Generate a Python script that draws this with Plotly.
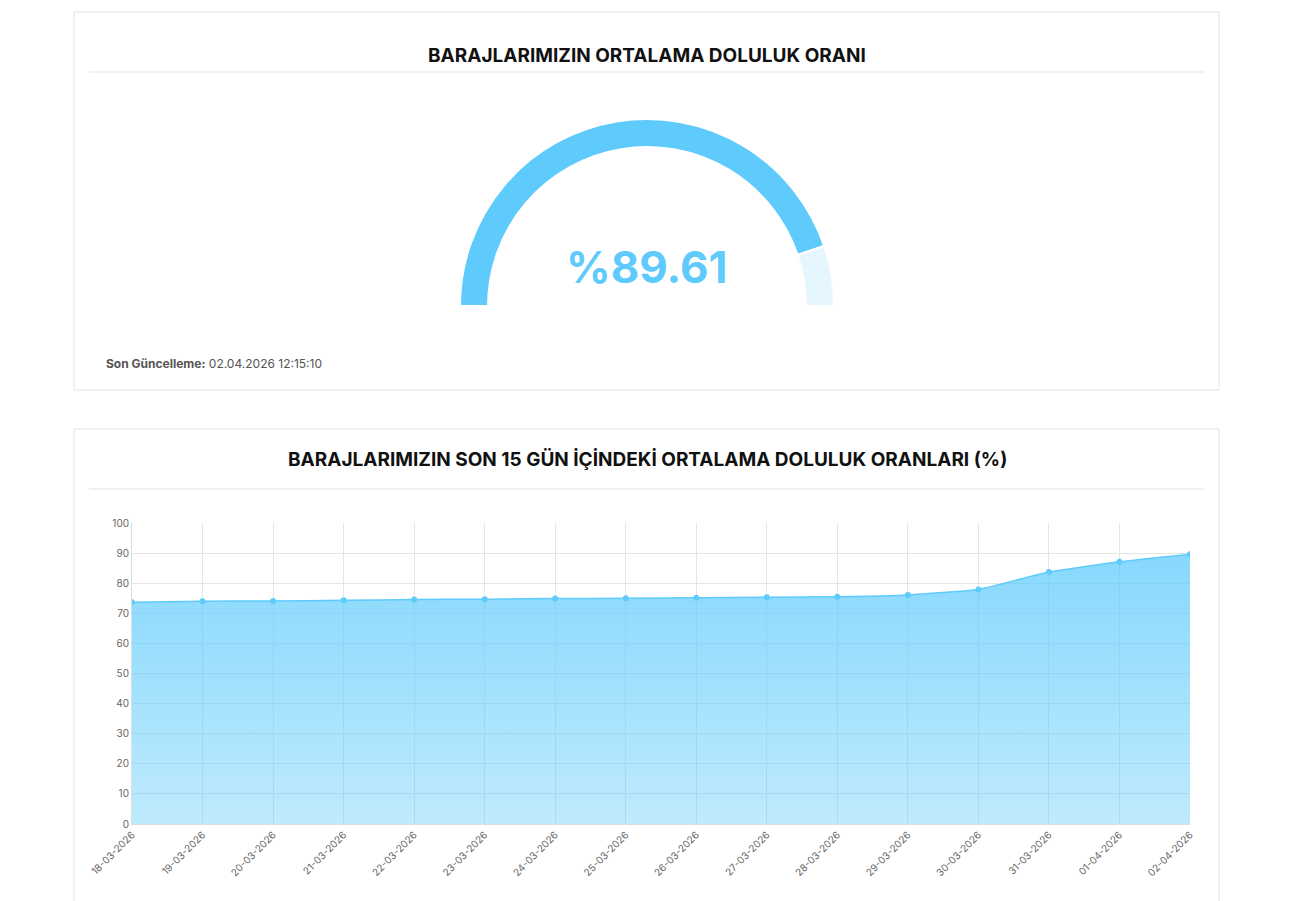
import plotly.graph_objects as go

W, H = 1290, 901

gauge_value = 89.61
update_text = "02.04.2026 12:15:10"

dates = ["18-03-2026", "19-03-2026", "20-03-2026", "21-03-2026", "22-03-2026",
         "23-03-2026", "24-03-2026", "25-03-2026", "26-03-2026", "27-03-2026",
         "28-03-2026", "29-03-2026", "30-03-2026", "31-03-2026", "01-04-2026",
         "02-04-2026"]
fill_rates = [73.7, 74.0, 74.1, 74.3, 74.6, 74.7, 74.9, 75.0, 75.2, 75.3,
              75.5, 76.1, 77.9, 83.7, 87.1, 89.61]
y_ticks = list(range(0, 101, 10))

BLUE = "#5fcbfc"
FONT = "Inter"


def px(x):
    return x / W


def py(y):
    return 1 - y / H


fig = go.Figure()

# gauge as a half donut: filled part, remainder, invisible lower half
fig.add_trace(go.Pie(
    values=[gauge_value, 100 - gauge_value, 100],
    marker=dict(colors=[BLUE, "#e6f6fe", "rgba(0,0,0,0)"],
                line=dict(color="white", width=[2, 2, 0])),
    hole=0.85, sort=False, direction="clockwise", rotation=-90,
    textinfo="none", hoverinfo="skip", showlegend=False,
    domain={"x": [px(452), px(826)], "y": [py(485), py(111)]},
))

# line chart
fig.add_trace(go.Scatter(
    x=dates, y=fill_rates, mode="lines+markers",
    line=dict(color=BLUE, width=1.5, shape="spline", smoothing=0.4),
    marker=dict(color=BLUE, size=6),
    fill="tozeroy",
    fillgradient=dict(type="vertical",
                      colorscale=[[0, "rgba(95,203,252,0.4)"], [1, "rgba(95,203,252,0.75)"]]),
    hoverinfo="x+y", showlegend=False,
))

fig.update_xaxes(domain=[px(124), px(1182)], tickangle=-45, showgrid=True,
                 gridcolor="#e5e5e5", showline=True, linecolor="#dddddd",
                 tickfont=dict(family=FONT, size=10, color="#666"), ticks="",
                 range=[0, len(dates) - 1], automargin=False)
fig.update_yaxes(domain=[py(816), py(515)], range=[0, 100], tickvals=y_ticks,
                 gridcolor="#e5e5e5", showline=True, linecolor="#dddddd",
                 zeroline=False, tickfont=dict(family=FONT, size=10, color="#666"),
                 automargin=False)

shapes = [
    dict(type="rect", xref="paper", yref="paper", x0=px(66), x1=px(1211), y0=py(382), y1=py(4),
         line=dict(color="#e3e3e3", width=1), layer="below"),
    dict(type="rect", xref="paper", yref="paper", x0=px(66), x1=px(1211), y0=py(930), y1=py(421),
         line=dict(color="#e3e3e3", width=1), layer="below"),
    dict(type="line", xref="paper", yref="paper", x0=px(81), x1=px(1196), y0=py(64), y1=py(64),
         line=dict(color="#e3e3e3", width=1)),
    dict(type="line", xref="paper", yref="paper", x0=px(81), x1=px(1196), y0=py(481), y1=py(481),
         line=dict(color="#e3e3e3", width=1)),
]

annotations = [
    dict(text="<b>BARAJLARIMIZIN ORTALAMA DOLULUK ORANI</b>", x=px(639), y=py(34),
         font=dict(family=FONT, size=19, color="#111")),
    dict(text="<b>%89.61</b>", x=px(639), y=py(230),
         font=dict(family=FONT, size=44, color=BLUE)),
    dict(text="<b>Son Güncelleme:</b> " + update_text, x=px(96), y=py(355), xanchor="left",
         font=dict(family=FONT, size=12, color="#555")),
    dict(text="<b>BARAJLARIMIZIN SON 15 GÜN İÇİNDEKİ ORTALAMA DOLULUK ORANLARI (%)</b>",
         x=px(639), y=py(451), font=dict(family=FONT, size=19, color="#111")),
]
for a in annotations:
    a.update(xref="paper", yref="paper", showarrow=False)

fig.update_layout(width=W, height=H, margin=dict(l=0, r=0, t=0, b=0),
                  plot_bgcolor="white", paper_bgcolor="white",
                  shapes=shapes, annotations=annotations, showlegend=False)

fig.write_html("out.html")
